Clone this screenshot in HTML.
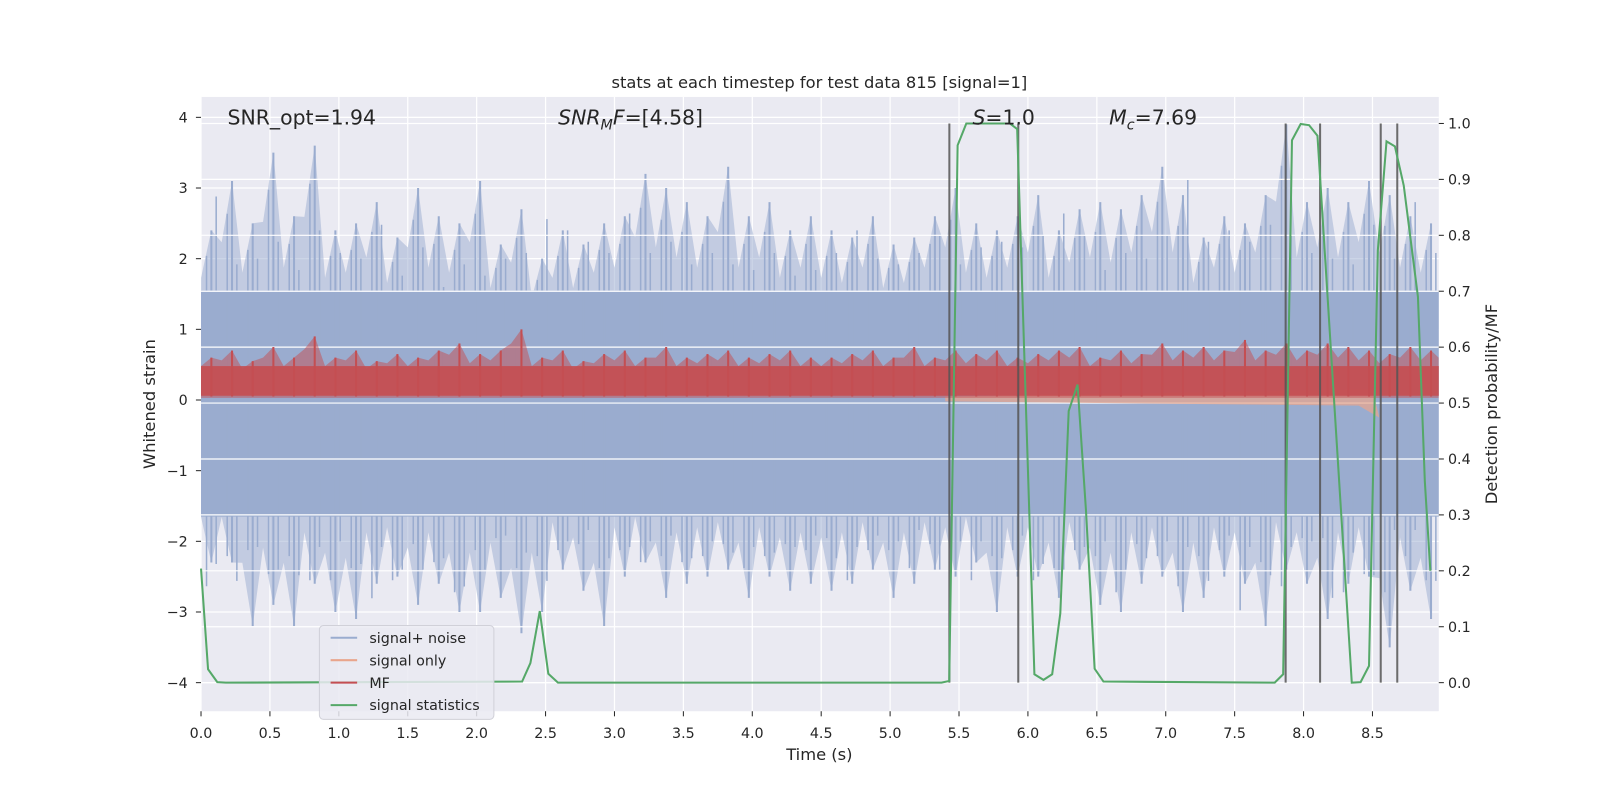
<!DOCTYPE html>
<html><head><meta charset="utf-8"><style>
html,body{margin:0;padding:0;overflow:hidden;width:1600px;height:800px;background:#fff;font-family:"Liberation Sans","DejaVu Sans",sans-serif;}
svg{display:block;}
svg text{font-family:"DejaVu Sans","Liberation Sans",sans-serif;fill:#262626;}
</style></head><body>
<svg id="c" width="1600" height="800" viewBox="0 0 1568 784" style="position:absolute;left:0;top:0" xmlns="http://www.w3.org/2000/svg"></svg>
<script>
const xTicks=[0,0.5,1,1.5,2,2.5,3,3.5,4,4.5,5,5.5,6,6.5,7,7.5,8,8.5];
const xTickLabels=["0.0","0.5","1.0","1.5","2.0","2.5","3.0","3.5","4.0","4.5","5.0","5.5","6.0","6.5","7.0","7.5","8.0","8.5"];
const yTicks=[-4,-3,-2,-1,0,1,2,3,4];
const yTickLabels=["\u22124","\u22123","\u22122","\u22121","0","1","2","3","4"];
const rTicks=[0,0.1,0.2,0.3,0.4,0.5,0.6,0.7,0.8,0.9,1.0];
const rTickLabels=["0.0","0.1","0.2","0.3","0.4","0.5","0.6","0.7","0.8","0.9","1.0"];
const binWidth=0.15;
const noiseUpper=[2.4,3.1,2.5,3.5,2.6,3.6,2.4,2.5,2.8,2.3,3.0,2.6,2.5,3.1,2.2,2.7,2.0,2.4,2.2,2.5,2.6,3.2,3.0,2.8,2.6,3.3,2.6,2.8,2.4,2.6,2.4,2.3,2.6,2.2,2.3,2.6,3.0,2.5,2.4,2.6,2.9,2.4,2.7,2.8,2.7,2.9,3.3,2.9,2.3,2.6,2.5,2.9,3.9,2.8,3.0,2.8,3.1,2.9,2.6,2.5];
const noiseLower=[-2.3,-2.3,-3.2,-2.9,-3.2,-2.6,-3.0,-3.1,-2.6,-2.5,-2.9,-2.6,-3.0,-3.0,-2.8,-3.3,-3.0,-2.4,-2.7,-3.2,-2.5,-2.3,-2.8,-2.6,-2.5,-2.4,-2.8,-2.5,-2.7,-2.6,-2.7,-2.6,-2.4,-2.8,-2.6,-2.4,-2.5,-2.3,-3.0,-2.5,-2.5,-2.8,-2.4,-2.9,-3.0,-2.6,-2.5,-3.0,-2.8,-2.5,-2.6,-3.2,-2.4,-2.6,-3.1,-2.6,-2.5,-3.5,-2.7,-3.1];
const mfUpper=[0.6,0.7,0.55,0.75,0.6,0.9,0.6,0.7,0.55,0.65,0.6,0.7,0.8,0.65,0.7,1.0,0.6,0.7,0.55,0.65,0.7,0.6,0.75,0.6,0.65,0.7,0.6,0.65,0.7,0.6,0.6,0.65,0.7,0.6,0.75,0.6,0.7,0.65,0.7,0.6,0.65,0.7,0.75,0.6,0.7,0.65,0.8,0.7,0.75,0.7,0.85,0.7,0.8,0.7,0.8,0.75,0.7,0.65,0.75,0.7];
const sigT=[0,0.051,0.118,0.18,2.33,2.39,2.458,2.52,2.59,5.373,5.429,5.49,5.553,5.869,5.922,6.047,6.113,6.176,6.235,6.296,6.36,6.421,6.484,6.548,7.791,7.852,7.916,7.979,8.04,8.101,8.35,8.414,8.475,8.539,8.602,8.663,8.727,8.83,8.88,8.92];
const sigP=[0.204,0.024,0.001,0,0.002,0.035,0.128,0.016,0,0,0.003,0.961,1.0,1.0,0.99,0.015,0.005,0.015,0.124,0.486,0.533,0.309,0.025,0.002,0,0.015,0.97,0.999,0.997,0.978,0,0.001,0.03,0.773,0.968,0.959,0.889,0.69,0.36,0.2];
const vLines=[5.43,5.93,7.87,8.12,8.56,8.68];

const L=197,R=1410,T=95,B=697;
const X=t=>L+t*135.06;
const Y=v=>392-v*69.25;
const Y2=p=>669-p*548;
const svg=document.getElementById('c');
const NS='http://www.w3.org/2000/svg';
function mk(tag,attrs,parent){const e=document.createElementNS(NS,tag);for(const k in attrs)e.setAttribute(k,attrs[k]);(parent||svg).appendChild(e);return e;}

let bg=mk('rect',{x:L,y:T,width:R-L,height:B-T,fill:'#eaeaf2'});


xTicks.forEach(t=>{let g=mk('line',{x1:X(t),x2:X(t),y1:T,y2:B,stroke:'#fff','stroke-width':1.2});

});
yTicks.forEach(v=>{let g=mk('line',{x1:L,x2:R,y1:Y(v),y2:Y(v),stroke:'#fff','stroke-width':1.2});

});
const ng=mk('g',{});


let pts=[];
noiseUpper.forEach((v,i)=>pts.push(X(i*binWidth)+','+Y(v*0.72),X(i*binWidth+binWidth/2)+','+Y(v)));
for(let i=noiseLower.length-1;i>=0;i--){pts.push(X(i*binWidth+binWidth/2)+','+Y(noiseLower[i]),X(i*binWidth)+','+Y(noiseLower[i]*0.72));}
mk('polygon',{points:pts.join(' '),fill:'#9aaccf',opacity:0.5},ng);
mk('rect',{x:L,y:Y(1.55),width:R-L,height:Y(-1.65)-Y(1.55),fill:'#9aaccf'},ng);
noiseUpper.forEach((v,i)=>{mk('line',{x1:X(i*binWidth+binWidth/2),x2:X(i*binWidth+binWidth/2),y1:Y(v),y2:Y(noiseLower[i]),stroke:'#9aaccf','stroke-width':2},ng);
mk('line',{x1:X(i*binWidth+0.04),x2:X(i*binWidth+0.04),y1:Y(v*0.85),y2:Y(noiseLower[(i+7)%noiseLower.length]*0.85),stroke:'#9aaccf','stroke-width':1.5},ng);
mk('line',{x1:X(i*binWidth+0.11),x2:X(i*binWidth+0.11),y1:Y(noiseUpper[(i+5)%noiseUpper.length]*0.8),y2:Y(noiseLower[(i+3)%noiseLower.length]*0.8),stroke:'#9aaccf','stroke-width':1.5},ng);});
rTicks.forEach(p=>{let g=mk('line',{x1:L,x2:R,y1:Y2(p),y2:Y2(p),stroke:'#fff','stroke-width':1.2});

});
let so=mk('polygon',{points:[X(5.4)+','+Y(0.05),X(8.5)+','+Y(0.15),X(8.55)+','+Y(-0.25),X(8.4)+','+Y(-0.08),X(5.4)+','+Y(-0.02)].join(' '),fill:'#e9a58c',opacity:0.7});


const mg=mk('g',{});


let mp=[];
mfUpper.forEach((v,i)=>mp.push(X(i*binWidth)+','+Y(v*0.8),X(i*binWidth+binWidth/2)+','+Y(v)));
mp.push(X(8.98)+','+Y(0.6),X(8.98)+','+Y(0.03),X(0)+','+Y(0.03));
mk('polygon',{points:mp.join(' '),fill:'#c44e52',opacity:0.5},mg);
mk('rect',{x:L,y:Y(0.48),width:R-L,height:Y(0.06)-Y(0.48),fill:'#c44e52',opacity:0.92},mg);
mfUpper.forEach((v,i)=>mk('line',{x1:X(i*binWidth+binWidth/2),x2:X(i*binWidth+binWidth/2),y1:Y(v),y2:Y(0.05),stroke:'#c44e52','stroke-width':2},mg));
vLines.forEach(t=>{let l=mk('line',{x1:X(t),x2:X(t),y1:Y2(1),y2:Y2(0),stroke:'#555','stroke-width':2,opacity:0.85});

});
let gl=mk('polyline',{points:sigT.map((t,i)=>X(t)+','+Y2(sigP[i])).join(' '),fill:'none',stroke:'#55a868','stroke-width':2});


xTicks.forEach((t,i)=>{mk('line',{x1:X(t),x2:X(t),y1:B,y2:B+5,stroke:'#262626'});
let tx=mk('text',{x:X(t),y:723,'text-anchor':'middle','font-size':14});tx.textContent=xTickLabels[i];

});
yTicks.forEach((v,i)=>{mk('line',{x1:L-5,x2:L,y1:Y(v),y2:Y(v),stroke:'#262626'});
let tx=mk('text',{x:184,y:Y(v)+5,'text-anchor':'end','font-size':14});tx.textContent=yTickLabels[i];

});
rTicks.forEach((p,i)=>{mk('line',{x1:R,x2:R+5,y1:Y2(p),y2:Y2(p),stroke:'#262626'});
let tx=mk('text',{x:1419,y:Y2(p)+5,'font-size':14});tx.textContent=rTickLabels[i];

});
</script>
<svg width="1600" height="800" viewBox="0 0 1568 784" style="position:absolute;left:0;top:0" xmlns="http://www.w3.org/2000/svg">
<text x="803" y="86" text-anchor="middle" font-size="16">stats at each timestep for test data 815 [signal=1]</text>
<text x="803" y="745" text-anchor="middle" font-size="16">Time (s)</text>
<text transform="translate(152,396) rotate(-90)" text-anchor="middle" font-size="16">Whitened strain</text>
<text transform="translate(1467,396) rotate(-90)" text-anchor="middle" font-size="16">Detection probability/MF</text>
<text x="223" y="122" font-size="20">SNR_opt=1.94</text>
<text x="547" y="122" font-size="20"><tspan font-style="italic">SNR</tspan><tspan font-style="italic" font-size="14" dy="5">M</tspan><tspan font-style="italic" dy="-5">F</tspan>=[4.58]</text>
<text x="953" y="122" font-size="20"><tspan font-style="italic">S</tspan>=1.0</text>
<text x="1087" y="122" font-size="20"><tspan font-style="italic">M</tspan><tspan font-style="italic" font-size="14" dy="5">c</tspan><tspan dy="-5">=7.69</tspan></text>
<g>
<rect x="313" y="613" width="171" height="92" rx="4" fill="#eaeaf2" fill-opacity="0.85" stroke="#d0d0d8"/>
<line x1="324" x2="350" y1="625" y2="625" stroke="#9aaccf" stroke-width="2"/><text x="362" y="630" font-size="14">signal+ noise</text>
<line x1="324" x2="350" y1="647" y2="647" stroke="#e9a58c" stroke-width="2"/><text x="362" y="652" font-size="14">signal only</text>
<line x1="324" x2="350" y1="669" y2="669" stroke="#c44e52" stroke-width="2"/><text x="362" y="674" font-size="14">MF</text>
<line x1="324" x2="350" y1="691" y2="691" stroke="#55a868" stroke-width="2"/><text x="362" y="696" font-size="14">signal statistics</text>
</g>
</svg>
</body></html>
